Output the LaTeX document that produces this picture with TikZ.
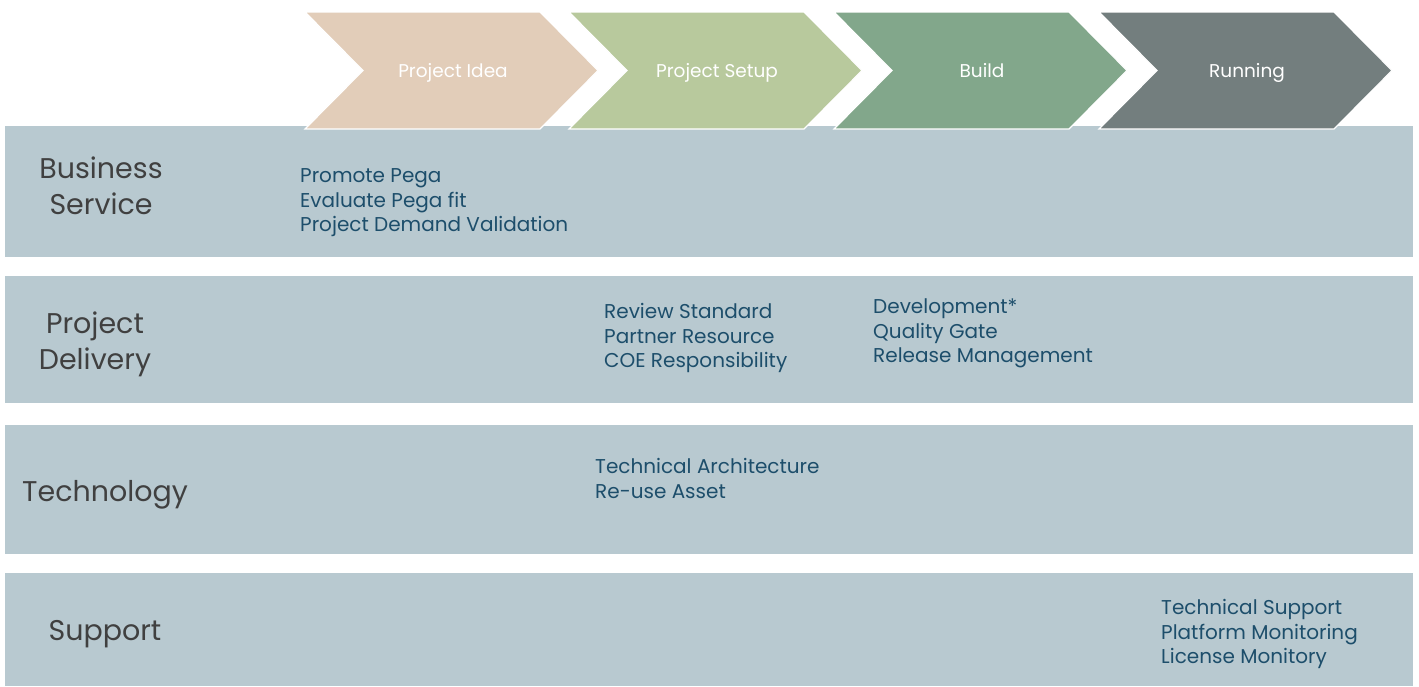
\documentclass[tikz,border=0pt]{standalone}
\usepackage{fontspec}
\setmainfont{Poppins}
\usepackage{tikz}
\usepackage{xcolor}
\usetikzlibrary{positioning}

\definecolor{bandblue}{HTML}{B8C9D0}
\definecolor{ideacol}{HTML}{E2CDB9}
\definecolor{setupcol}{HTML}{B8C99D}
\definecolor{buildcol}{HTML}{82A78B}
\definecolor{runcol}{HTML}{737E7E}
\definecolor{itemcol}{HTML}{1D4E6B}
\definecolor{lanecol}{HTML}{404040}

\tikzset{
  lane/.style={font=\fontsize{28.5}{36.5}\selectfont, text=lanecol, align=center, inner sep=0pt},
  items/.style={font=\fontsize{20}{24.5}\selectfont, text=itemcol, align=left, anchor=north west, inner sep=0pt},
  phase/.style={font=\fontsize{18.5}{20}\selectfont, text=white, inner sep=0pt, anchor=mid}
}

\begin{document}
\begin{tikzpicture}[x=1pt, y=-1pt]
                        \useasboundingbox (0,0) rectangle (1419,686);
                        % swim lanes
                        \fill[bandblue] (5,126) rectangle (1413,257);
                        \fill[bandblue] (5,276) rectangle (1413,403);
                        \fill[bandblue] (5,425) rectangle (1413,554);
                        \fill[bandblue] (5,573) rectangle (1413,686);
                        % phases
                        \foreach \x/\col/\nm/\txt in {305/ideacol/idea/Project Idea, 569/setupcol/setup/Project Setup, 834/buildcol/build/Build, 1099/runcol/run/Running}{
                            \filldraw[fill=\col, draw=white, line width=1.2pt]
                            (\x,12) -- ++(235,0) -- ++(58,58.5) -- ++(-58,58.5) -- ++(-235,0) -- ++(58,-58.5) -- cycle;
                            \node[phase] (\nm) at (\x+148,74.5) {\txt};
                        }
                        % lane titles
                        \node[lane] (bs) at (101,186) {Business\\Service};
                        \node[lane] (pd) at (95,344.5) {Project\\Delivery};
                        \node[lane] (tech) at (105,494.5) {Technology};
                        \node[lane] (sup) at (105,634.5) {Support};
                        % activities
                        \node[items] (bsi) at (300,168.5) {Promote Pega\\Evaluate Pega fit\\Project Demand Validation};
                        \node[items] (pds) at (604,303.5) {Review Standard\\Partner Resource\\COE Responsibility};
                        \node[items] (pdb) at (873,298.5) {Development*\\Quality Gate\\Release Management};
                        \node[items] (tcs) at (595,458.5) {Technical Architecture\\Re-use Asset};
                        \node[items] (spr) at (1161,599.5) {Technical Support\\Platform Monitoring\\License Monitory};
                    \end{tikzpicture}
\end{document}
